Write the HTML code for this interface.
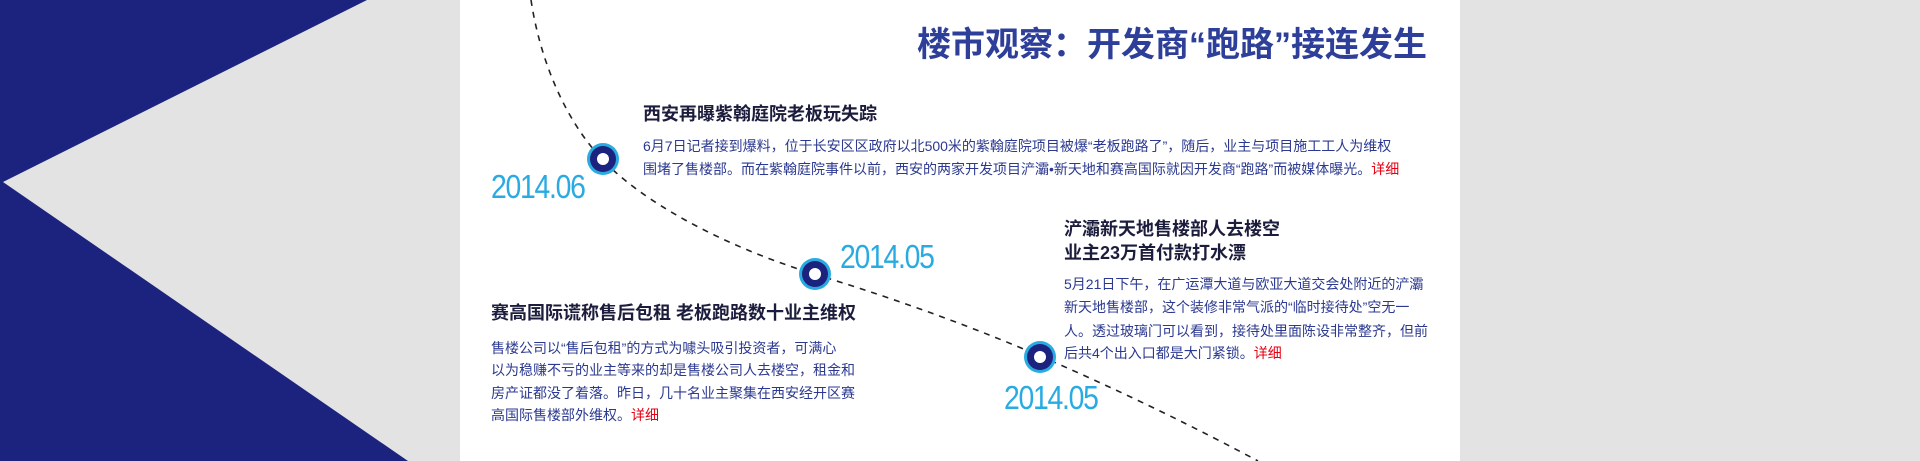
<!DOCTYPE html>
<html><head><meta charset="utf-8"><style>
html,body{margin:0;padding:0;}
body{width:1920px;height:461px;position:relative;overflow:hidden;background:#e3e3e3;font-family:"Liberation Sans","Noto Sans CJK SC",sans-serif;}
.a{position:absolute;white-space:nowrap;}
.h{font-size:18px;font-weight:bold;color:#1c1c3c;line-height:22px;}
.b{font-size:14px;color:#2b3990;line-height:22px;}
.r{color:#e60012;}
.d{font-size:33px;color:#29abe2;letter-spacing:-1.5px;transform:scaleX(0.86);transform-origin:left center;line-height:36px;}
</style></head><body>
<svg class="a" style="left:0;top:0" width="1920" height="461">
<polygon points="0,0 1920,0 1920,461 0,461" fill="#e3e3e3"/>
<polygon points="0,0 367,0 3,182 408,461 0,461" fill="#1c237e"/>
<rect x="460" y="0" width="1000" height="461" fill="#fff"/>
<path d="M531,0 C540,60 565,120 602,159 C640,200 720,245 814,274 C900,300 980,330 1040,356 C1130,395 1200,430 1258,461" fill="none" stroke="#222" stroke-width="1.6" stroke-dasharray="6,6"/>
<g><circle cx="603" cy="159" r="16" fill="#29abe2"/><circle cx="603" cy="159" r="13" fill="#1c237e"/><circle cx="603" cy="159" r="6" fill="#fff"/></g>
<g><circle cx="815" cy="274" r="16" fill="#29abe2"/><circle cx="815" cy="274" r="13" fill="#1c237e"/><circle cx="815" cy="274" r="6" fill="#fff"/></g>
<g><circle cx="1040" cy="357" r="16" fill="#29abe2"/><circle cx="1040" cy="357" r="13" fill="#1c237e"/><circle cx="1040" cy="357" r="6" fill="#fff"/></g>
</svg>
<div class="a" style="right:493px;top:24px;font-size:34px;font-weight:bold;color:#2e3f9a;line-height:42px;">楼市观察：开发商“跑路”接连发生</div>

<div class="a d" style="left:491px;top:169px;">2014.06</div>
<div class="a d" style="left:840px;top:239px;">2014.05</div>
<div class="a d" style="left:1004px;top:380px;">2014.05</div>

<div class="a h" style="left:643px;top:103px;">西安再曝紫翰庭院老板玩失踪</div>
<div class="a b" style="left:643px;top:135px;">6月7日记者接到爆料，位于长安区区政府以北500米的紫翰庭院项目被爆“老板跑路了”，随后，业主与项目施工工人为维权</div>
<div class="a b" style="left:643px;top:158px;">围堵了售楼部。而在紫翰庭院事件以前，西安的两家开发项目浐灞•新天地和赛高国际就因开发商“跑路”而被媒体曝光。<span class="r">详细</span></div>

<div class="a h" style="left:1064px;top:218px;">浐灞新天地售楼部人去楼空</div>
<div class="a h" style="left:1064px;top:242px;">业主23万首付款打水漂</div>
<div class="a b" style="left:1064px;top:273px;">5月21日下午，在广运潭大道与欧亚大道交会处附近的浐灞</div>
<div class="a b" style="left:1064px;top:296px;">新天地售楼部，这个装修非常气派的“临时接待处”空无一</div>
<div class="a b" style="left:1064px;top:320px;">人。透过玻璃门可以看到，接待处里面陈设非常整齐，但前</div>
<div class="a b" style="left:1064px;top:342px;">后共4个出入口都是大门紧锁。<span class="r">详细</span></div>

<div class="a h" style="left:491px;top:302px;">赛高国际谎称售后包租 老板跑路数十业主维权</div>
<div class="a b" style="left:491px;top:337px;">售楼公司以“售后包租”的方式为噱头吸引投资者，可满心</div>
<div class="a b" style="left:491px;top:359px;">以为稳赚不亏的业主等来的却是售楼公司人去楼空，租金和</div>
<div class="a b" style="left:491px;top:382px;">房产证都没了着落。昨日，几十名业主聚集在西安经开区赛</div>
<div class="a b" style="left:491px;top:404px;">高国际售楼部外维权。<span class="r">详细</span></div>
</body></html>
